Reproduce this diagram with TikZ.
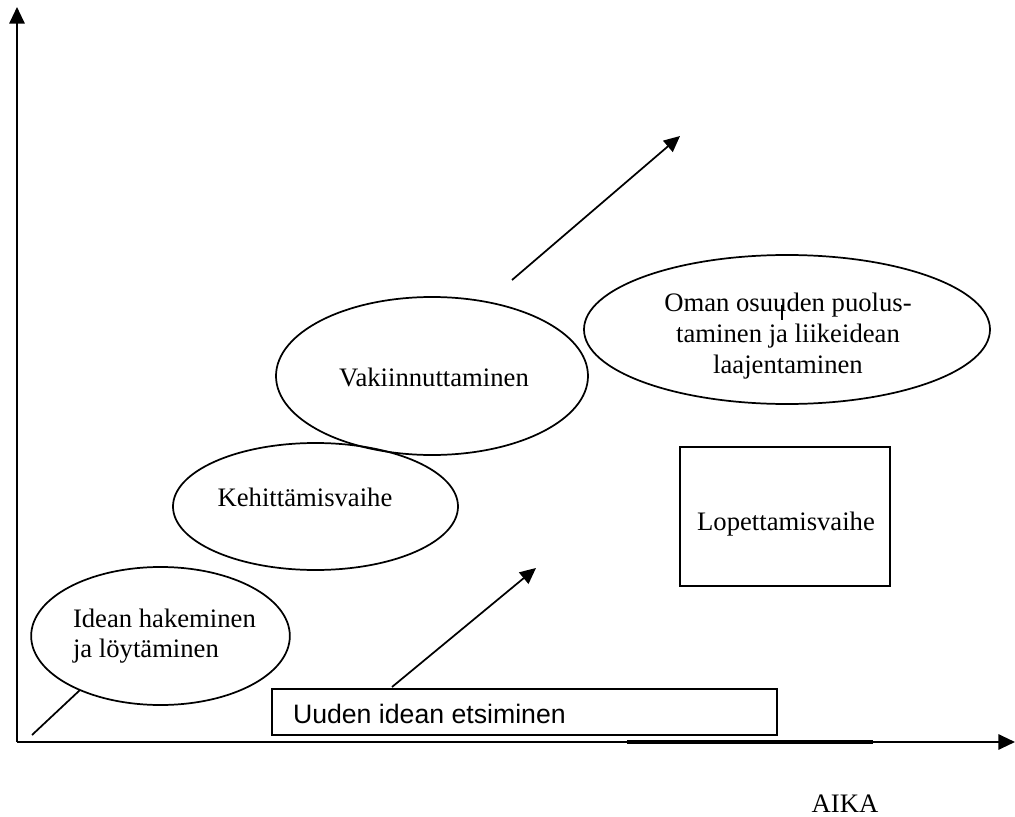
\documentclass[tikz,border=0pt]{standalone}
\usepackage{fontspec}
\setmainfont{Liberation Serif}
\newfontfamily\boxfont{Liberation Sans}
\usetikzlibrary{shapes.geometric,arrows.meta}

\tikzset{
  phase/.style={ellipse, draw, line width=1.3pt, inner sep=0pt, outer sep=0pt},
  framebox/.style={rectangle, draw, line width=1.3pt, inner sep=0pt, outer sep=0pt},
  label/.style={inner sep=0pt, outer sep=0pt, font=\fontsize{20}{23}\selectfont},
  axis/.style={line width=1.5pt, -{Triangle[length=12.5pt,width=11.5pt]}},
  trend/.style={line width=1.3pt, -{Triangle[length=12pt,width=11pt]}},
  plain/.style={line width=1.3pt}
}

\begin{document}
\begin{tikzpicture}[x=0.75pt, y=-0.75pt]
  \useasboundingbox (0,0) rectangle (1015,817);

  % axes
  \coordinate (origin) at (17,742);
  \coordinate (ytop) at (17,7);
  \coordinate (xend) at (1015,742);
  \coordinate (segA) at (627,742);
  \coordinate (segB) at (873,742);
  \draw[axis] (origin) -- (ytop);
  \draw[axis] (origin) -- (xend);
  \draw[line width=2.3pt] (segA) -- (segB);

  % phases of the business idea
  \node[phase, minimum width=194pt, minimum height=103.5pt] (idea) at (160.5,636) {};
  \node[phase, minimum width=213.75pt, minimum height=95.25pt] (devel) at (315.5,506.5) {};
  \node[phase, minimum width=234pt, minimum height=118.5pt] (estab) at (432,376) {};
  \node[phase, minimum width=304.5pt, minimum height=111.75pt] (defend) at (787,329.5) {};
  \node[framebox, minimum width=157.5pt, minimum height=104.25pt] (stop) at (785,516.5) {};
  \node[framebox, minimum width=378.75pt, minimum height=34.5pt] (search) at (524.5,712) {};

  % texts
  \node[label, anchor=west, align=left] (ideaT) at (73,636) {Idean hakeminen\\ja löytäminen};
  \node[label, anchor=base] (develT) at (305,506) {Kehittämisvaihe};
  \node[label, anchor=base] (estabT) at (434,386) {Vakiinnuttaminen};
  \node[label, align=center] (defendT) at (788,336) {Oman osuuden puolus-\\taminen ja liikeidean\\laajentaminen};
  \node[label, anchor=base] (stopT) at (786,530) {Lopettamisvaihe};
  \node[label, anchor=base west, font=\boxfont\fontsize{20}{23}\selectfont] (searchT) at (293,723) {Uuden idean etsiminen};
  \node[label, anchor=base] (timeT) at (845,812) {AIKA};

  % small stroke over the first line
  \coordinate (tickA) at (782,305);
  \coordinate (tickB) at (782,320);
  \draw[line width=1.3pt] (tickA) -- (tickB);

  % growth lines
  \coordinate (s1) at (32,735);
  \coordinate (e1) at (80,690);
  \coordinate (s2) at (392,687);
  \coordinate (e2) at (536,568);
  \coordinate (s3) at (512,280);
  \coordinate (e3) at (680,136);
  \draw[plain] (s1) -- (e1);
  \draw[trend] (s2) -- (e2);
  \draw[trend] (s3) -- (e3);
\end{tikzpicture}
\end{document}
